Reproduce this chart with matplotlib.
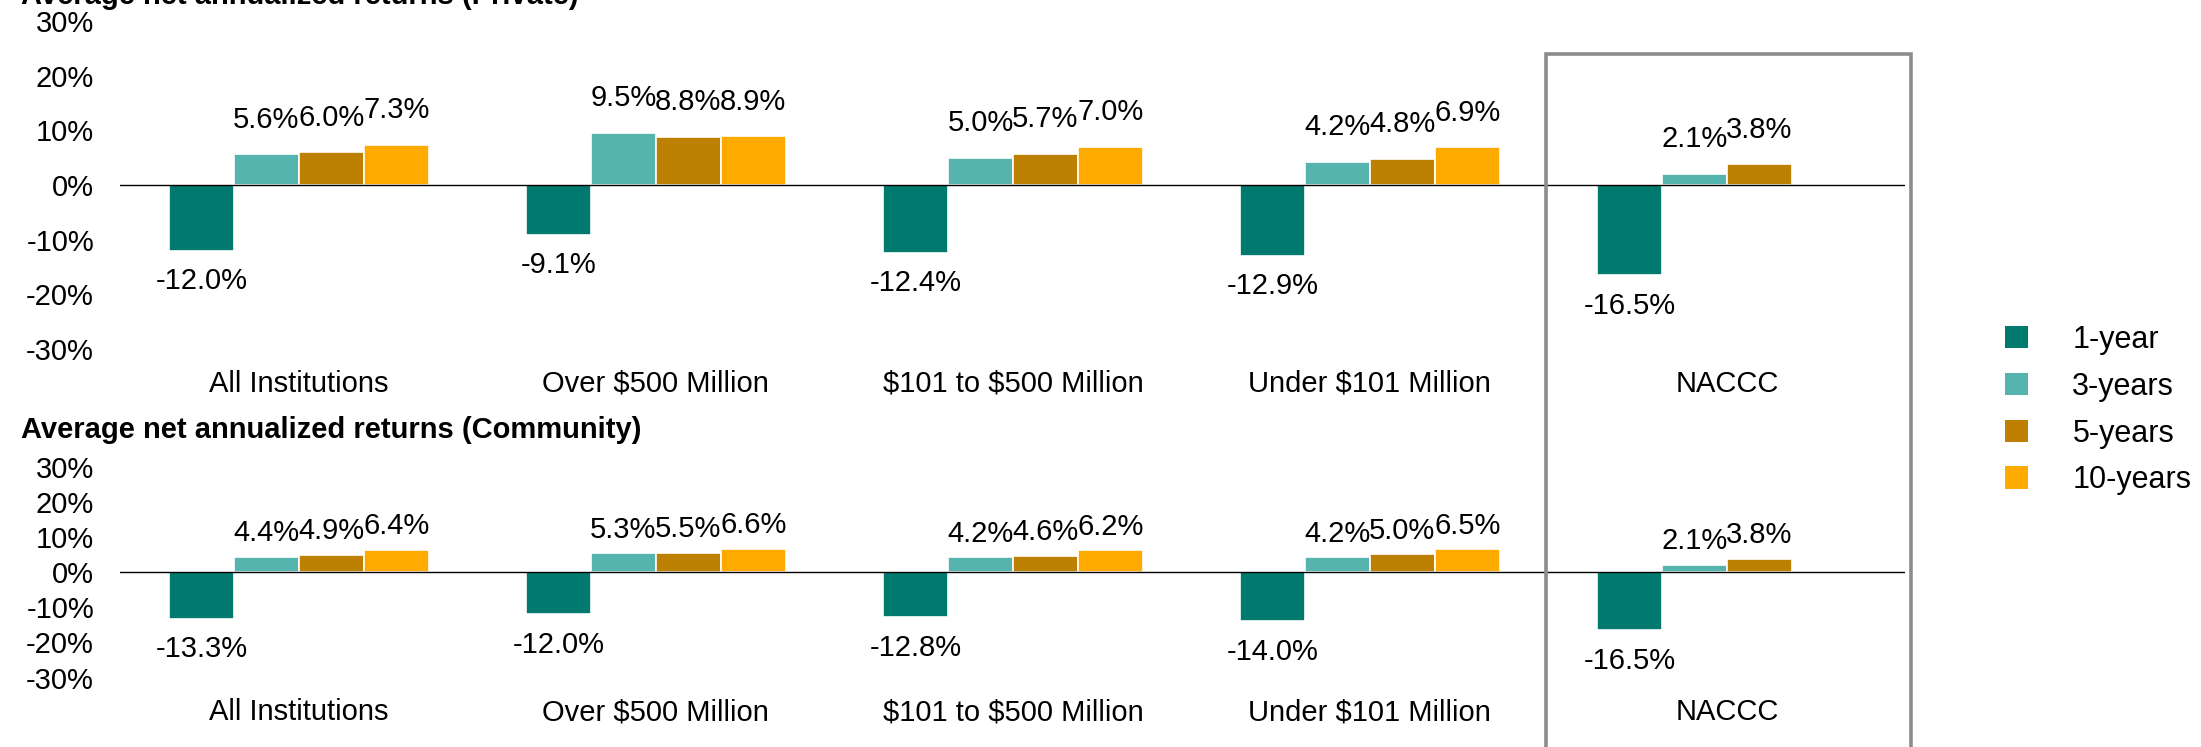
import numpy as np
import matplotlib
matplotlib.use("Agg")
import matplotlib.pyplot as plt
from matplotlib.patches import Rectangle, Patch
from matplotlib.transforms import blended_transform_factory

plt.rcParams['font.family'] = ['Liberation Sans', 'DejaVu Sans']

# data (percent)
categories = ["All Institutions", "Over \\$500 Million", "\\$101 to \\$500 Million",
              "Under \\$101 Million", "NACCC"]
series_names = ["1-year", "3-years", "5-years", "10-years"]

private_1y = [-12.0, -9.1, -12.4, -12.9, -16.5]
private_3y = [5.6, 9.5, 5.0, 4.2, 2.1]
private_5y = [6.0, 8.8, 5.7, 4.8, 3.8]
private_10y = [7.3, 8.9, 7.0, 6.9, np.nan]

community_1y = [-13.3, -12.0, -12.8, -14.0, -16.5]
community_3y = [4.4, 5.3, 4.2, 4.2, 2.1]
community_5y = [4.9, 5.5, 4.6, 5.0, 3.8]
community_10y = [6.4, 6.6, 6.2, 6.5, np.nan]

yticks = [-30, -20, -10, 0, 10, 20, 30]

COLORS = ["#00796F", "#55B5AE", "#BD8000", "#FFAA00"]
SLOT = 0.182
BAR_W = 0.182
FS = 21

fig = plt.figure(figsize=(22.01, 7.47), dpi=100)
ax_top = fig.add_axes([0.0547, 0.5328, 0.811, 0.439])
ax_bot = fig.add_axes([0.0547, 0.093, 0.811, 0.2825])


def draw_panel(ax, series, pos_off, neg_off):
    x = np.arange(len(categories))
    for i, vals in enumerate(series):
        vals = np.array(vals, dtype=float)
        xs = x + (i - 1.5) * SLOT
        ax.bar(xs, vals, width=BAR_W, color=COLORS[i], edgecolor="white",
               linewidth=1.2, label=series_names[i], zorder=2)
        for xx, v in zip(xs, vals):
            if np.isnan(v):
                continue
            off = pos_off if v >= 0 else -neg_off
            ax.annotate("%.1f%%" % v, (xx, v), xytext=(0, off),
                        textcoords="offset points", ha="center", va="center",
                        fontsize=FS)
    ax.axhline(0, color="black", linewidth=1.0, zorder=3)
    ax.set_xlim(-0.5, 4.5)
    ax.set_ylim(-30, 30)
    ax.set_yticks(yticks)
    ax.set_yticklabels(["%d%%" % t for t in yticks])
    ax.set_xticks(x)
    ax.set_xticklabels(categories)
    ax.tick_params(axis="y", length=0, pad=19, labelsize=FS)
    ax.tick_params(axis="x", length=0, pad=15, labelsize=FS)
    for s in ax.spines.values():
        s.set_visible(False)


draw_panel(ax_top, [private_1y, private_3y, private_5y, private_10y], 25, 22)
draw_panel(ax_bot, [community_1y, community_3y, community_5y, community_10y], 17, 22)

# titles
fig.text(0.0095, 0.9946, "Average net annualized returns (Private)", fontsize=FS,
         fontweight="bold", ha="left", va="baseline")
fig.text(0.0095, 0.4137, "Average net annualized returns (Community)", fontsize=FS,
         fontweight="bold", ha="left", va="baseline")

# grey box around NACCC
trans = blended_transform_factory(ax_top.transData, fig.transFigure)
box = Rectangle((3.493, -0.1), 1.022, 0.1 + 0.928, transform=trans, fill=False,
                edgecolor="#8C8C8C", linewidth=2.6, clip_on=False, zorder=5)
fig.add_artist(box)

# legend
handles = [Patch(facecolor=c, edgecolor="none") for c in COLORS]
fig.legend(handles, series_names, loc="center left", bbox_to_anchor=(0.911, 0.451),
           frameon=False, fontsize=22, handlelength=0.75, handleheight=0.75,
           handletextpad=1.45, labelspacing=0.55, borderpad=0, borderaxespad=0)

fig.savefig("out.png", dpi=100)
